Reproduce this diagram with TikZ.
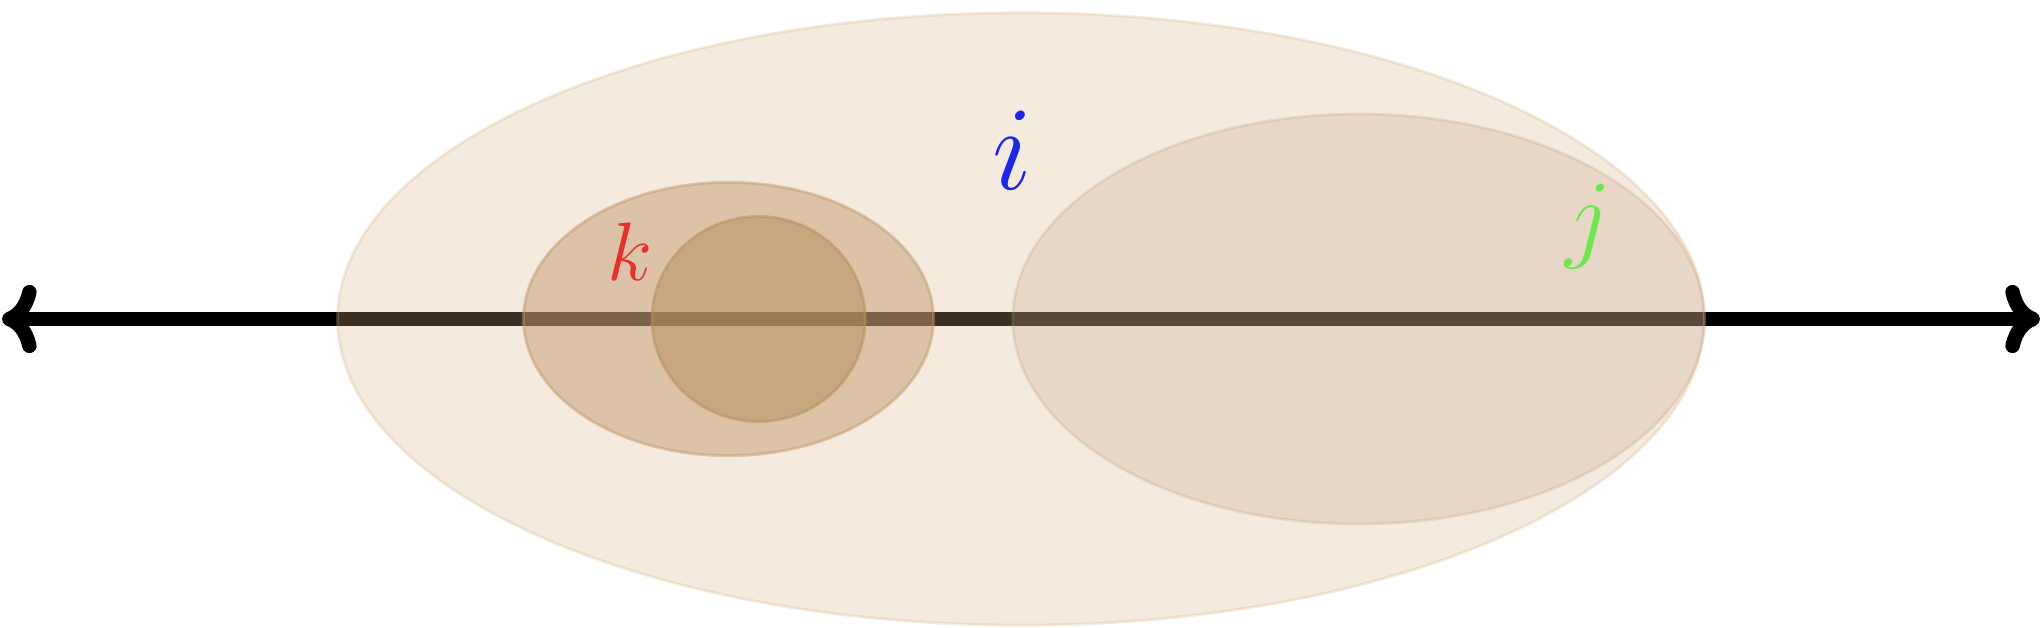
\documentclass[tikz,border=0pt]{standalone}
\usepackage{xcolor}
\usepackage{tikz}
\usetikzlibrary{arrows.meta}
\definecolor{Sand}{HTML}{D7B285}
\definecolor{Clay}{HTML}{C2986C}
\definecolor{Umber}{HTML}{B9905F}
\definecolor{Dune}{HTML}{C19877}
\definecolor{LabelRed}{HTML}{E8302A}
\definecolor{LabelBlue}{HTML}{1A26F0}
\definecolor{LabelGreen}{HTML}{6BE84A}

\begin{document}
\begin{tikzpicture}[
  axis/.style={line width=3pt,
    {Computer Modern Rightarrow[length=7.2pt,width=14.2pt]}-{Computer Modern Rightarrow[length=7.2pt,width=14.2pt]}},
  region/.style 2 args={semithick,draw=#1,fill=#1,opacity=#2},
  setlabel/.style={anchor=base,inner sep=0pt}
]
\useasboundingbox (-7.47,-2.26) rectangle (7.47,2.334);

% Real line.
\coordinate (west) at (-7.455,0);
\coordinate (east) at (7.455,0);
\draw[axis] (west)--(east);

% Sets.
\draw[region={Sand}{0.27}] (0,0) ellipse [x radius=5,y radius=2.24];
\draw[region={Clay}{0.48}] (-2.14,0) ellipse [x radius=1.5,y radius=1.0];
\draw[region={Umber}{0.55}] (-1.92,0) ellipse [x radius=0.78,y radius=0.75];
\draw[region={Dune}{0.23}] (2.47,0) ellipse [x radius=2.53,y radius=1.5];

% Labels.
\node[setlabel,LabelBlue,font=\fontsize{23}{28}\selectfont] (lbli) at (-0.06,0.95) {$i$};
\node[setlabel,LabelRed,font=\LARGE] (lblk) at (-2.86,0.285) {$k$};
\node[setlabel,LabelGreen,font=\fontsize{19.4}{24}\selectfont] (lblj) at (4.15,0.51) {$j$};
\end{tikzpicture}
\end{document}
